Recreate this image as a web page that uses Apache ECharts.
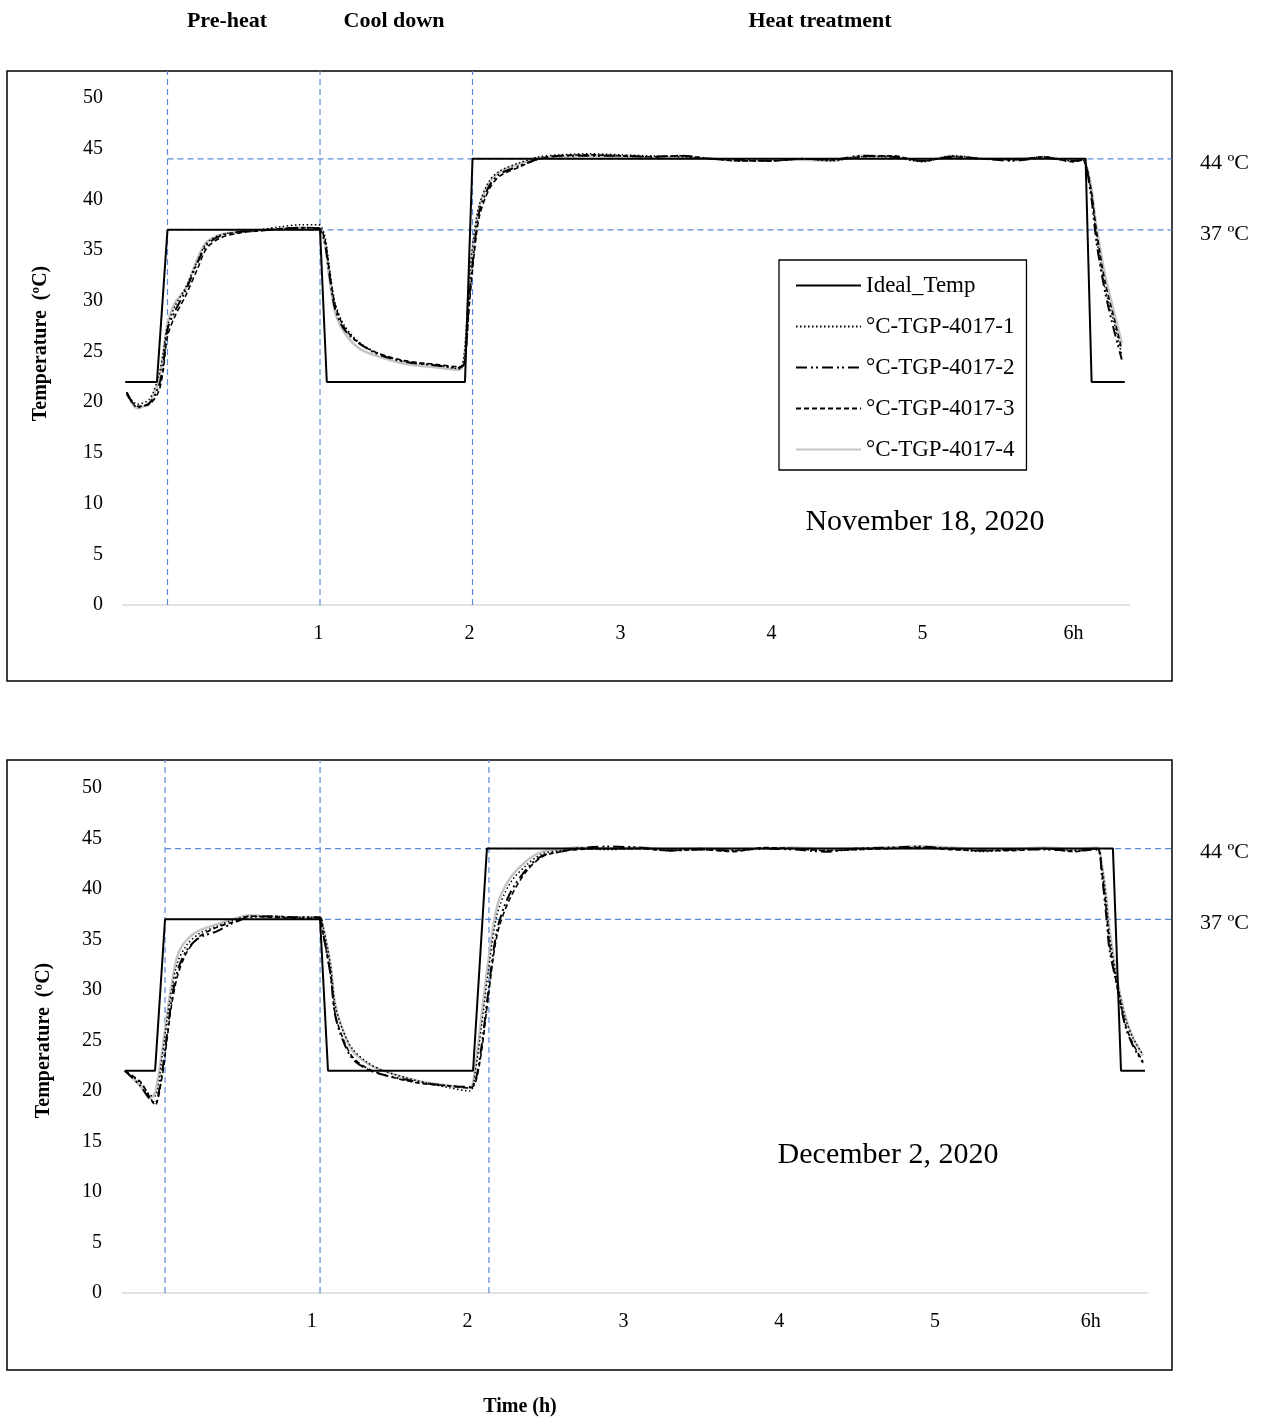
<!DOCTYPE html>
<html><head><meta charset="utf-8">
<script src="https://cdn.jsdelivr.net/npm/echarts@6/dist/echarts.min.js"></script>
<style>html,body{margin:0;padding:0;background:#fff}#c{width:1265px;height:1423px}</style>
</head><body><div id="c"></div><script>
// ---------- DATA ----------
const seriesNames = ['Ideal_Temp', '°C-TGP-4017-1', '°C-TGP-4017-2', '°C-TGP-4017-3', '°C-TGP-4017-4'];
const xTickValues = [1, 2, 3, 4, 5, 6];
const xTickLabels = ['1', '2', '3', '4', '5', '6h'];
const phaseLabels = ['Pre-heat', 'Cool down', 'Heat treatment'];
const refTemps = [44, 37];
const refTempLabels = ['44 ºC', '37 ºC'];
const dateLabels = ['November 18, 2020', 'December 2, 2020'];
const yAxisTitle = 'Temperature  (ºC)';
const xAxisTitle = 'Time (h)';

// Chart 1 (November 18, 2020)
const topIdealTime = [-0.28, -0.07, 0, 1.01, 1.055, 1.97, 2.02, 6.08, 6.12, 6.34];
const topIdealTemp = [22, 22, 37, 37, 22, 22, 44, 44, 22, 22];
const topPhaseBounds = [0, 1.01, 2.02];
const topTime = [-0.27,-0.2,-0.12,-0.06,-0.03,0,0.05,0.12,0.2,0.26,0.35,0.48,0.6,0.75,0.88,1.0,1.04,1.07,1.11,1.17,1.27,1.4,1.57,1.8,1.93,1.965,2.0,2.03,2.065,2.13,2.2,2.33,2.46,2.6,2.8,3.0,3.2,3.4,3.6,3.8,4.0,4.2,4.4,4.6,4.8,5.0,5.2,5.4,5.6,5.8,6.0,6.06,6.11,6.155,6.21,6.27,6.32];
const topS1 = [20.9,19.8,20.3,22.5,24.8,27.5,29.5,31.3,34.0,35.7,36.5,36.8,37.0,37.3,37.5,37.5,36.5,33.5,29.8,27.6,25.9,24.8,24.0,23.6,23.3,24.8,32.5,36.5,39.5,41.8,42.8,43.6,44.2,44.4,44.5,44.4,44.3,44.2,44.0,43.8,43.8,44.0,43.8,44.2,44.2,43.7,44.3,44.0,43.9,44.2,43.8,43.9,41.3,36.0,31.2,27.8,24.6];
const topS2 = [21.0,19.5,19.9,21.5,23.5,27.2,29.0,31.0,33.8,35.5,36.4,36.8,36.9,37.1,37.2,37.1,35.8,32.8,29.2,27.2,25.8,24.7,24.0,23.6,23.4,23.8,30.5,35.0,38.8,41.3,42.5,43.3,44.0,44.3,44.3,44.3,44.2,44.3,44.0,43.9,43.8,44.0,43.9,44.3,44.2,43.8,44.2,44.0,43.8,44.1,43.8,43.9,41.0,35.5,30.8,27.0,24.2];
const topS3 = [20.8,19.6,19.8,21.0,23.0,26.5,28.5,30.5,33.2,35.2,36.2,36.7,36.9,37.1,37.2,37.2,36.2,33.2,29.6,27.4,25.8,24.8,24.1,23.7,23.5,23.7,29.8,34.5,38.3,41.0,42.3,43.2,44.0,44.3,44.4,44.3,44.2,44.3,44.0,43.8,43.8,44.0,43.9,44.2,44.3,43.8,44.2,44.0,43.9,44.2,43.7,43.9,41.5,36.6,31.8,28.2,25.2];
const topS4 = [20.9,19.4,20.0,22.0,24.5,27.8,29.8,31.2,34.2,35.8,36.5,36.8,36.9,37.1,37.2,37.1,35.8,32.5,28.9,26.9,25.3,24.5,23.8,23.4,23.2,24.2,32.0,36.0,39.3,41.6,42.7,43.5,44.1,44.2,44.3,44.2,44.1,44.1,44.0,43.8,43.9,43.9,43.8,44.3,44.2,43.8,44.3,44.0,44.0,44.1,43.8,43.9,41.8,37.0,32.5,28.8,25.8];

// Chart 2 (December 2, 2020)
const botIdealTime = [-0.2, -0.006, 0.058, 1.053, 1.104, 2.035, 2.124, 6.142, 6.194, 6.348];
const botIdealTemp = [22, 22, 37, 37, 22, 22, 44, 44, 22, 22];
const botPhaseBounds = [0.058, 1.053, 2.137];
const botTime = [-0.2,-0.1,-0.04,-0.006,0.04,0.07,0.1,0.14,0.2,0.28,0.39,0.49,0.6,0.75,0.9,1.05,1.07,1.12,1.15,1.2,1.26,1.35,1.46,1.68,1.89,2.015,2.05,2.09,2.13,2.19,2.27,2.38,2.48,2.6,2.7,2.9,3.1,3.3,3.5,3.7,3.9,4.1,4.3,4.5,4.7,4.9,5.1,5.3,5.5,5.7,5.9,6.04,6.07,6.1,6.12,6.17,6.22,6.27,6.335];
const botS1 = [22.0,20.8,19.6,19.5,23.5,27.0,30.0,32.8,34.5,35.6,36.3,36.9,37.3,37.3,37.2,37.2,36.5,32.5,28.5,26.0,24.2,22.9,22.0,21.0,20.3,20.0,22.0,26.5,31.5,37.5,40.5,42.4,43.5,43.8,44.0,43.9,44.0,43.9,44.0,43.8,44.0,44.0,43.8,43.9,44.0,44.1,44.0,43.7,43.9,44.0,43.8,44.0,42.3,38.8,35.5,30.8,27.3,25.3,23.6];
const botS2 = [22.0,20.5,19.2,18.8,22.0,25.5,29.0,32.0,34.0,35.2,35.8,36.6,37.2,37.3,37.2,37.2,35.8,31.5,27.5,25.0,23.2,22.2,21.6,20.9,20.5,20.4,21.0,24.5,29.5,36.0,39.5,42.0,43.3,43.7,44.0,44.2,44.1,43.8,43.9,43.8,44.0,43.9,43.7,44.0,44.1,44.2,44.0,43.8,43.9,43.9,43.8,43.9,41.5,37.2,34.0,30.3,26.5,24.5,22.8];
const botS3 = [22.0,20.9,19.4,18.6,21.5,25.0,28.5,31.5,33.8,35.3,36.2,36.7,37.3,37.2,37.1,37.0,35.8,31.5,27.6,25.2,23.4,22.3,21.6,20.8,20.5,20.3,20.8,24.0,29.0,35.5,39.0,41.8,43.2,43.7,43.9,44.0,44.0,43.8,43.9,43.7,44.1,44.0,43.8,43.9,44.0,44.1,43.9,43.8,43.8,44.0,43.7,44.0,41.8,37.8,34.6,30.3,26.7,24.7,22.9];
const botS4 = [22.0,20.5,19.3,19.8,24.0,27.5,30.5,33.5,35.0,35.9,36.5,37.0,37.4,37.2,37.2,37.1,36.3,32.5,28.6,26.0,24.0,22.8,22.0,21.0,20.5,20.3,22.5,27.5,32.5,38.3,41.0,42.8,43.7,43.9,44.1,44.0,44.1,43.9,44.0,43.9,44.0,44.1,43.9,44.0,44.1,44.2,44.1,43.9,43.9,44.1,43.9,44.1,42.5,39.0,36.0,31.0,27.5,25.3,23.5];

// ---------- LAYOUT / STYLE ----------
const FONT = '"Liberation Serif", "Times New Roman", serif';
const REF_COLOR = '#5b8bd6';
const lineStyles = [
  { color: '#000000', width: 2, type: 'solid' },
  { color: '#000000', width: 1.5, type: [1.5, 2.5] },
  { color: '#000000', width: 2, type: [11, 4, 2, 3, 2, 4] },
  { color: '#000000', width: 1.6, type: [5, 3] },
  { color: '#c4c4c4', width: 2.5, type: 'solid' }
];
const panels = [
  { frame: { x: 7, y: 71, w: 1165, h: 610 }, left: 123, right: 1130, top: 98, bottom: 605, zeroPx: 167.5, pxh: 151,
    idealT: topIdealTime, idealV: topIdealTemp, time: topTime, sensors: [topS1, topS2, topS3, topS4], bounds: topPhaseBounds,
    date: dateLabels[0], dateX: 925, dateY: 522, nameGap: 72, namePad: 16 },
  { frame: { x: 7, y: 760, w: 1165, h: 610 }, left: 122, right: 1148, top: 788, bottom: 1293, zeroPx: 156, pxh: 155.8,
    idealT: botIdealTime, idealV: botIdealTemp, time: botTime, sensors: [botS1, botS2, botS3, botS4], bounds: botPhaseBounds,
    date: dateLabels[1], dateX: 888, dateY: 1155, nameGap: 68, namePad: 0 }
];

const zip = (a, b) => a.map((v, i) => [v, b[i]]);
const grids = [], xAxes = [], yAxes = [], series = [], graphics = [];

panels.forEach((p, k) => {
  const xMin = (p.left - p.zeroPx) / p.pxh;
  const xMax = (p.right - p.zeroPx) / p.pxh;
  const frameRight = p.frame.x + p.frame.w;
  const refXMax = (frameRight - p.zeroPx) / p.pxh;
  const refYMax = 50 * (p.bottom - p.frame.y) / (p.bottom - p.top);
  const gData = grids.length, gRef = gData + 1;
  grids.push({ left: p.left, top: p.top, width: p.right - p.left, height: p.bottom - p.top, containLabel: false, outerBoundsMode: 'none' });
  grids.push({ left: p.left, top: p.frame.y, width: frameRight - p.left, height: p.bottom - p.frame.y, containLabel: false, outerBoundsMode: 'none' });
  xAxes.push({
    gridIndex: gData, type: 'value', min: xMin, max: xMax,
    axisLine: { show: true, lineStyle: { color: '#d9d9d9', width: 1.5 } },
    axisTick: { show: false }, splitLine: { show: false },
    axisLabel: { customValues: xTickValues, margin: 19, color: '#000', fontFamily: FONT, fontSize: 20,
      formatter: v => { const i = xTickValues.indexOf(Math.round(v)); return i >= 0 ? xTickLabels[i] : ''; } }
  });
  xAxes.push({ gridIndex: gRef, type: 'value', min: xMin, max: refXMax, show: false });
  yAxes.push({
    gridIndex: gData, type: 'value', min: 0, max: 50, interval: 5,
    axisLine: { show: false }, axisTick: { show: false }, splitLine: { show: false },
    axisLabel: { margin: 20, color: '#000', fontFamily: FONT, fontSize: 20, padding: [4, 0, 0, 0] },
    name: yAxisTitle, nameLocation: 'middle', nameGap: p.nameGap,
    nameTextStyle: { color: '#000', fontFamily: FONT, fontSize: 20, fontWeight: 'bold', padding: [0, 0, 0, p.namePad] }
  });
  yAxes.push({ gridIndex: gRef, type: 'value', min: 0, max: refYMax, show: false });

  // reference dashed lines
  const refStyle = { color: REF_COLOR, width: 1.2, type: [6, 4] };
  p.bounds.forEach(b => {
    series.push({ type: 'line', xAxisIndex: gRef, yAxisIndex: gRef, data: [[b, 0], [b, refYMax]],
      symbol: 'none', silent: true, lineStyle: refStyle, z: 1 });
  });
  refTemps.forEach((t, i) => {
    series.push({ type: 'line', xAxisIndex: gRef, yAxisIndex: gRef, data: [[p.bounds[0], t], [refXMax, t]],
      symbol: 'none', silent: true, lineStyle: refStyle, z: 1,
      endLabel: { show: true, formatter: refTempLabels[i], distance: 28, offset: [0, 4], color: '#000', fontFamily: FONT, fontSize: 22 } });
  });

  // sensor series then ideal on top
  p.sensors.forEach((s, i) => {
    series.push({ name: seriesNames[i + 1], type: 'line', xAxisIndex: gData, yAxisIndex: gData,
      data: zip(p.time, s), symbol: 'none', smooth: 0.3, lineStyle: lineStyles[i + 1], itemStyle: { color: lineStyles[i + 1].color },
      z: i === 3 ? 2 : 3 });
  });
  series.push({ name: seriesNames[0], type: 'line', xAxisIndex: gData, yAxisIndex: gData,
    data: zip(p.idealT, p.idealV), symbol: 'none', lineStyle: lineStyles[0], itemStyle: { color: '#000' }, z: 4 });

  graphics.push({ type: 'rect', shape: { x: p.frame.x, y: p.frame.y, width: p.frame.w, height: p.frame.h },
    style: { fill: 'none', stroke: '#000', lineWidth: 1.5 }, z: 0 });
  graphics.push({ type: 'text', x: p.dateX, y: p.dateY,
    style: { text: p.date, font: '30px ' + FONT, fill: '#000', align: 'center', verticalAlign: 'middle' } });
});

const phaseX = [227, 394, 820];
phaseLabels.forEach((t, i) => graphics.push({ type: 'text', x: phaseX[i], y: 21,
  style: { text: t, font: 'bold 22px ' + FONT, fill: '#000', align: 'center', verticalAlign: 'middle' } }));
graphics.push({ type: 'text', x: 520, y: 1407,
  style: { text: xAxisTitle, font: 'bold 20px ' + FONT, fill: '#000', align: 'center', verticalAlign: 'middle' } });

const chart = echarts.init(document.getElementById('c'), null, { renderer: 'canvas' });
chart.setOption({
  animation: false,
  backgroundColor: '#fff',
  grid: grids, xAxis: xAxes, yAxis: yAxes, series: series, graphic: graphics,
  legend: {
    data: seriesNames, orient: 'vertical', left: 779, top: 260,
    itemWidth: 65, itemHeight: 14, itemGap: 18, padding: [14, 12, 9, 16],
    borderColor: '#000', borderWidth: 1.3, backgroundColor: '#fff',
    itemStyle: { opacity: 0 },
    textStyle: { color: '#000', fontFamily: FONT, fontSize: 23 },
    selectedMode: false
  }
});
</script></body></html>
